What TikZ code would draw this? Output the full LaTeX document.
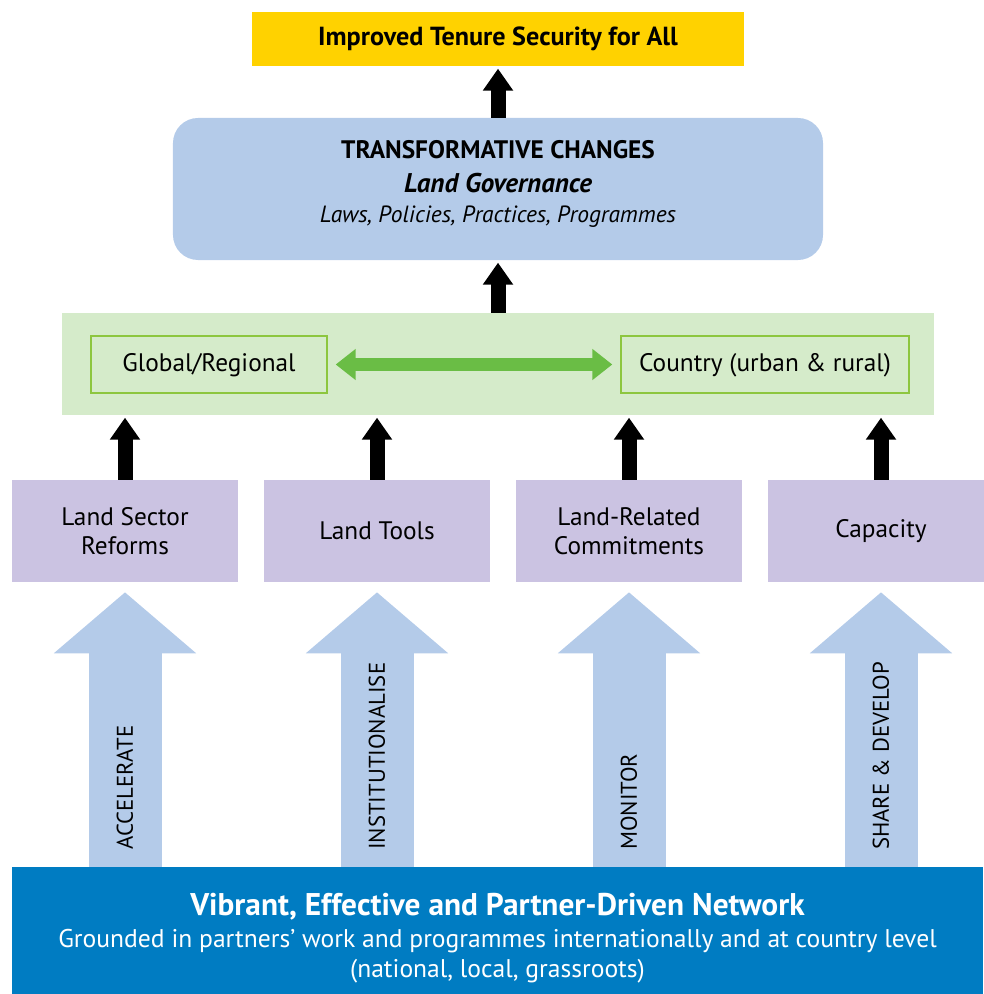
\documentclass[tikz,border=0pt]{standalone}
\usepackage{fontspec}
\setmainfont{PT Sans}
\usetikzlibrary{arrows.meta}

\definecolor{goalyellow}{HTML}{FFD200}
\definecolor{changeblue}{HTML}{B4CBE9}
\definecolor{levelgreen}{HTML}{D5EBCA}
\definecolor{levelborder}{HTML}{8DC63F}
\definecolor{linkgreen}{HTML}{6ABD45}
\definecolor{areapurple}{HTML}{CBC3E2}
\definecolor{netblue}{HTML}{007CC2}

\tikzset{
  goalbox/.style={fill=goalyellow, minimum width=123mm, minimum height=13.5mm, inner sep=0pt,
    text height=0.92em, text depth=0pt, font=\bfseries\fontsize{18.6}{22}\selectfont},
  changebox/.style={fill=changeblue, rounded corners=6.25mm, minimum width=162.5mm, minimum height=35.5mm, inner sep=0pt},
  changetext/.style={align=center, inner sep=0pt, font=\fontsize{18}{21.3}\selectfont},
  levelpanel/.style={fill=levelgreen, minimum width=218mm, minimum height=25.5mm, inner sep=0pt},
  levelbox/.style={draw=levelborder, line width=0.35mm, fill=levelgreen, minimum height=14.25mm, inner sep=0pt,
    text height=1em, text depth=0pt, font=\fontsize{18}{21}\selectfont},
  areabox/.style={fill=areapurple, minimum width=56.5mm, minimum height=25.5mm, inner sep=0pt, align=center,
    font=\fontsize{18}{20.6}\selectfont},
  netbox/.style={fill=netblue, minimum width=242.75mm, minimum height=31.75mm, inner sep=0pt},
  nettext/.style={text=white, align=center, inner sep=0pt, font=\fontsize{18.2}{21.3}\selectfont},
  upblack/.style={line width=3.75mm, -{Triangle[width=7.25mm,length=5.5mm]}, shorten >=0.6mm},
  bigup/.style={draw=changeblue, line width=18.25mm, -{Triangle[width=34.75mm,length=15.25mm]}, shorten >=2.5mm},
  link/.style={draw=linkgreen, line width=3.25mm,
    {Triangle[width=7.5mm,length=5mm]}-{Triangle[width=7.5mm,length=5mm]}, shorten >=2mm, shorten <=2mm},
  verb/.style={inner sep=0pt, font=\fontsize{16.2}{18}\selectfont}
}

\begin{document}
\begin{tikzpicture}[x=0.25mm, y=-0.25mm]
\useasboundingbox (0,0) rectangle (983,994);

% outcome and changes
\node[goalbox] (goal) at (498,39) {Improved Tenure Security for All};
\node[changebox] (change) at (498,189) {};
\node[changetext] (changelabel) at ([yshift=1.25mm]change.center)
  {{\bfseries TRANSFORMATIVE CHANGES}\\[2.5pt]
   {\bfseries\itshape\fontsize{19.2}{22}\selectfont Land Governance}\\
   {\itshape\fontsize{16.7}{21.3}\selectfont Laws, Policies, Practices, Programmes}};
\draw[upblack] (change.north) -- (goal.south);

% levels
\node[levelpanel] (level) at (498,364) {};
\node[levelbox, minimum width=59mm] (global) at (209,364.5) {Global/Regional};
\node[levelbox, minimum width=72mm] (country) at (765,364.5) {Country (urban \& rural)};
\draw[link] (global.east) -- (country.west);
\draw[upblack] (level.north) -- (change.south);

% network
\node[netbox] (net) at (497.5,930.5) {};
\node[nettext] (netlabel) at ([yshift=-1.9mm]net.center)
  {{\bfseries\fontsize{22.3}{24}\selectfont Vibrant, Effective and Partner-Driven Network}\\[1.5pt]
   Grounded in partners’ work and programmes internationally and at country level\\
   (national, local, grassroots)};

% work areas
\foreach \n/\x/\t/\v in {reform/125/{Land Sector\\Reforms}/ACCELERATE,
    tools/377/{Land Tools}/INSTITUTIONALISE,
    commit/629/{Land-Related\\Commitments}/MONITOR,
    capacity/881/{Capacity}/{SHARE \& DEVELOP}}
{
  \node[areabox] (\n) at (\x,531) {\t};
  \draw[upblack] (\n.north) -- (\n.north |- level.south);
  \draw[bigup] (\n.south |- net.north) -- (\n.south);
  \node[verb, rotate=90, anchor=west] (\n-verb) at (\x,850) {\v};
}
\end{tikzpicture}
\end{document}
